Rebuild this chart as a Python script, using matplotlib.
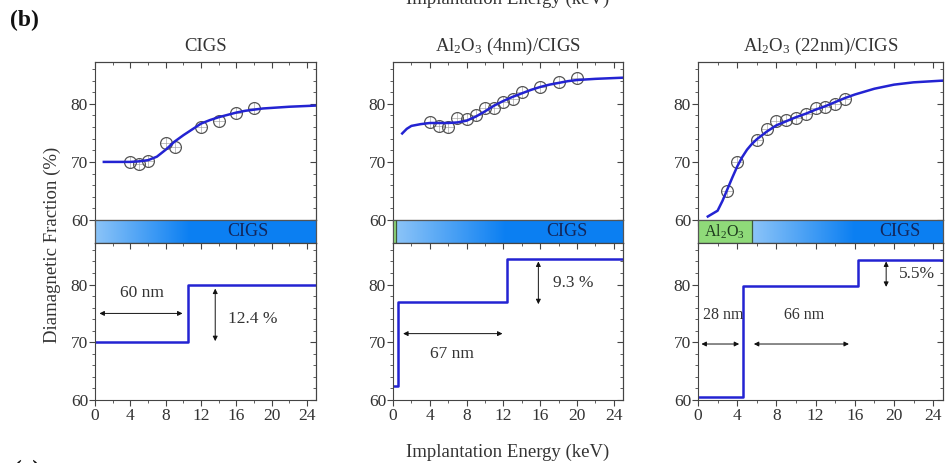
import numpy as np
import matplotlib
matplotlib.use("Agg")
import matplotlib.pyplot as plt
from matplotlib.colors import LinearSegmentedColormap
from matplotlib.ticker import MultipleLocator

plt.rcParams['font.family'] = ['Liberation Serif', 'DejaVu Serif']
plt.rcParams['mathtext.fontset'] = 'custom'
plt.rcParams['mathtext.rm'] = 'Liberation Serif'
plt.rcParams['mathtext.default'] = 'regular'

# --- measured points (energy keV, diamagnetic fraction %) ---
cigs_x = [4, 5, 6, 8, 9, 12, 14, 16, 18]
cigs_y = [69.9, 69.7, 70.2, 73.2, 72.6, 76.0, 77.1, 78.5, 79.3]
al4_x = [4, 5, 6, 7, 8, 9, 10, 11, 12, 13, 14, 16, 18, 20]
al4_y = [76.8, 76.1, 76.0, 77.5, 77.4, 78.1, 79.3, 79.3, 80.3, 80.8, 82.0, 82.9, 83.7, 84.5]
al22_x = [3, 4, 6, 7, 8, 9, 10, 11, 12, 13, 14, 15]
al22_y = [65.0, 69.9, 73.8, 75.7, 77.0, 77.2, 77.6, 78.2, 79.3, 79.5, 80.0, 80.9]

# --- fitted curves ---
cigs_fx = [1, 2, 3, 4, 5, 6, 7, 8, 9, 10, 11, 12, 13, 14, 15, 16, 17, 18, 19, 20, 22, 25]
cigs_fy = [70.0, 70.0, 70.0, 70.0, 70.1, 70.3, 70.9, 72.1, 73.5, 74.6, 75.6, 76.6,
           77.2, 77.7, 78.1, 78.5, 78.8, 79.0, 79.2, 79.3, 79.5, 79.7]
al4_fx = [1.0, 1.5, 2, 3, 4, 5, 6, 7, 8, 9, 10, 11, 12, 13, 14, 15, 16, 17, 18, 19, 20, 22, 25]
al4_fy = [74.9, 75.7, 76.2, 76.5, 76.7, 76.7, 76.7, 76.8, 77.1, 77.8, 78.7, 79.7, 80.5,
          81.2, 81.8, 82.4, 82.9, 83.3, 83.6, 83.9, 84.1, 84.3, 84.5]
al22_fx = [1.0, 2.0, 2.5, 3, 3.5, 4, 4.5, 5, 5.5, 6, 7, 8, 9, 10, 11, 12, 13, 14, 15, 16,
           18, 20, 22, 25]
al22_fy = [60.6, 61.6, 63.3, 65.3, 67.3, 69.2, 70.8, 72.1, 73.1, 73.9, 75.2, 76.3, 77.0,
           77.7, 78.3, 79.0, 79.6, 80.3, 81.0, 81.6, 82.6, 83.3, 83.7, 84.0]

# --- layer model steps (edge energies, fraction levels) ---
cigs_sx = [0, 10.5, 25]
cigs_sy = [70, 80, 80]
al4_sx = [0, 0.5, 12.4, 25]
al4_sy = [62.5, 76.9, 84.5, 84.5]
al22_sx = [0, 4.6, 16.3, 25]
al22_sy = [60.6, 79.8, 84.3, 84.3]

# --- layer bars: oxide end, gradient end ---
oxide_end = [0.0, 0.35, 5.5]
grad_end = [10.7, 12.3, 16.0]

titles = ['CIGS', r'Al$_2$O$_3$ (4nm)/CIGS', r'Al$_2$O$_3$ (22nm)/CIGS']
cigs_label_x = [17.3, 18.9, 20.6]

fig = plt.figure(figsize=(9.53, 4.63), dpi=100)
W, H = 953.0, 463.0
cols = [(95, 316), (393, 623), (698, 943)]
top_r, band_r, bot_r = (62, 220), (220, 243), (243, 400)

line_c = '#2323d2'
txt_c = '#333333'
spine_c = '#444444'
grad_cmap = LinearSegmentedColormap.from_list('cigs', ['#8cc4f8', '#0b7ff2'])


def rect(c, r):
    return [c[0] / W, 1 - r[1] / H, (c[1] - c[0]) / W, (r[1] - r[0]) / H]


def style(ax, xlabels):
    ax.set_xlim(0, 25)
    ax.set_ylim(60, 87.2)
    ax.xaxis.set_major_locator(MultipleLocator(4))
    ax.xaxis.set_minor_locator(MultipleLocator(2))
    ax.yaxis.set_major_locator(MultipleLocator(10))
    ax.yaxis.set_minor_locator(MultipleLocator(2))
    ax.tick_params(which='both', direction='out', colors=spine_c, labelcolor=txt_c,
                   labelsize=12.5, top=False, right=False)
    ax.tick_params(which='major', length=4)
    ax.tick_params(which='minor', length=2.5)
    ax.tick_params(axis='x', labelbottom=xlabels, pad=2)
    ax.tick_params(axis='y', pad=1)
    # inward ticks on the opposite sides
    sec = ax.secondary_xaxis('top')
    sec.set_xticks(np.arange(0, 25, 4))
    sec.xaxis.set_minor_locator(MultipleLocator(2))
    sec.tick_params(which='both', direction='in', labeltop=False, colors=spine_c)
    sec.tick_params(which='major', length=4)
    sec.tick_params(which='minor', length=2.5)
    secy = ax.secondary_yaxis('right')
    secy.set_yticks([60, 70, 80])
    secy.yaxis.set_minor_locator(MultipleLocator(2))
    secy.tick_params(which='both', direction='in', labelright=False, colors=spine_c)
    secy.tick_params(which='major', length=4)
    secy.tick_params(which='minor', length=2.5)
    for s in ax.spines.values():
        s.set_color(spine_c)
    sec.spines['top'].set_color(spine_c)
    secy.spines['right'].set_color(spine_c)


def arrow(ax, p0, p1):
    ax.annotate('', xy=p1, xytext=p0,
                arrowprops=dict(arrowstyle='<|-|>', color='#111111', lw=0.7,
                                mutation_scale=7, shrinkA=0, shrinkB=0))


data = [(cigs_x, cigs_y, cigs_fx, cigs_fy, cigs_sx, cigs_sy),
        (al4_x, al4_y, al4_fx, al4_fy, al4_sx, al4_sy),
        (al22_x, al22_y, al22_fx, al22_fy, al22_sx, al22_sy)]

bots = []
for i, (px, py, fx, fy, sx, sy) in enumerate(data):
    c = cols[i]
    at = fig.add_axes(rect(c, top_r))
    ab = fig.add_axes(rect(c, band_r))
    ad = fig.add_axes(rect(c, bot_r))
    bots.append(ad)

    # top: measured fraction and fit
    style(at, False)
    at.plot(px, py, ls='none', marker='+', ms=8.5, mew=0.5, color='#aaaaaa')
    at.plot(px, py, ls='none', marker='o', ms=8.5, mfc='none', mec='#555555', mew=0.9)
    at.plot(fx, fy, color=line_c, lw=1.8)
    at.set_title(titles[i], fontsize=13.5, color=txt_c, pad=8)

    # layer bar
    ab.set_xlim(0, 25)
    ab.set_ylim(0, 1)
    ab.set_xticks([])
    ab.set_yticks([])
    if oxide_end[i] > 0:
        ab.axvspan(0, oxide_end[i], color='#8fda79', zorder=1)
        ab.axvline(oxide_end[i], color='#3d5a3d', lw=0.9, zorder=3)
    grad = np.linspace(0, 1, 256).reshape(1, -1)
    ab.imshow(grad, extent=[oxide_end[i], grad_end[i], 0, 1], aspect='auto',
              cmap=grad_cmap, zorder=1)
    ab.axvspan(grad_end[i], 25, color='#0b7ff2', zorder=1)
    ab.text(cigs_label_x[i], 0.5, 'CIGS', ha='center', va='center',
            fontsize=13, color='#13265a', zorder=4)
    if oxide_end[i] > 1:
        ab.text(oxide_end[i] / 2, 0.5, r'Al$_2$O$_3$', ha='center', va='center',
                fontsize=11.5, color='#1e3a1e', zorder=4)
    for s in ab.spines.values():
        s.set_color('#555555')
        s.set_linewidth(0.9)

    # bottom: layer model
    style(ad, True)
    ad.step(sx, sy, where='post', color=line_c, lw=1.8)

b1, b2, b3 = bots

arrow(b1, (0.5, 75), (9.9, 75))
b1.text(5.3, 78.6, '60 nm', ha='center', va='center', fontsize=12.5, color=txt_c)
arrow(b1, (13.6, 79.3), (13.6, 70.2))
b1.text(17.8, 74.1, '12.4 %', ha='center', va='center', fontsize=12.5, color=txt_c)

arrow(b2, (1.1, 71.5), (11.9, 71.5))
b2.text(6.4, 68.0, '67 nm', ha='center', va='center', fontsize=12.5, color=txt_c)
arrow(b2, (15.8, 84.0), (15.8, 76.6))
b2.text(19.6, 80.2, '9.3 %', ha='center', va='center', fontsize=12.5, color=txt_c)

arrow(b3, (0.35, 69.7), (4.2, 69.7))
arrow(b3, (5.7, 69.7), (15.4, 69.7))
b3.text(2.6, 74.7, '28 nm', ha='center', va='center', fontsize=11.5, color=txt_c)
b3.text(10.8, 74.7, '66 nm', ha='center', va='center', fontsize=11.5, color=txt_c)
arrow(b3, (19.2, 84.0), (19.2, 79.6))
b3.text(22.3, 81.8, '5.5%', ha='center', va='center', fontsize=12.5, color=txt_c)

fig.text(508 / W, 1 - 452 / H, 'Implantation Energy (keV)', ha='center', va='center',
         fontsize=13.5, color=txt_c)
fig.text(508 / W, 1 + 1 / H, 'Implantation Energy (keV)', ha='center', va='center',
         fontsize=13.5, color=txt_c)
fig.text(52 / W, 1 - 245 / H, 'Diamagnetic Fraction (%)', ha='center', va='center',
         rotation=90, fontsize=13.5, color=txt_c)
fig.text(10 / W, 1 - 20 / H, '(b)', ha='left', va='center', fontsize=17,
         fontweight='bold', color='#111111')
fig.text(14 / W, 1 - 470 / H, '(c)', ha='left', va='center', fontsize=17,
         fontweight='bold', color='#111111')

fig.savefig('out.png', dpi=100)
